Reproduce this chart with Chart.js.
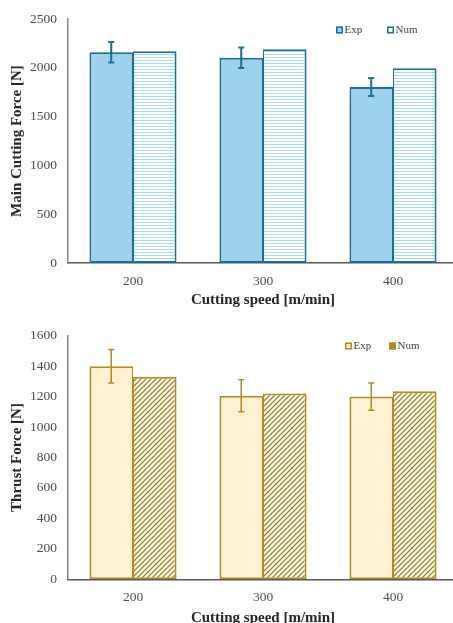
<!DOCTYPE html>
<html><head><meta charset="utf-8">
<script src="https://cdn.jsdelivr.net/npm/chart.js@4.4.1/dist/chart.umd.min.js"></script>
<style>
html,body{margin:0;padding:0;background:#fff;overflow:hidden;width:453px;height:623px;}
canvas{position:absolute;left:0;}
#c1{top:0}
#c2{top:310px}
</style></head><body>
<canvas id="c1" width="462" height="310"></canvas>
<canvas id="c2" width="462" height="320"></canvas>
<script>
// ---- data ----
const categories = ['200', '300', '400'];
const seriesNames = ['Exp', 'Num'];
const xTitle = 'Cutting speed [m/min]';

const mainTitle = 'Main Cutting Force [N]';
const mainExp = [2160, 2105, 1805];
const mainExpErr = [105, 105, 92];
const mainNum = [2170, 2190, 1995];
const mainTicks = [0, 500, 1000, 1500, 2000, 2500];

const thrustTitle = 'Thrust Force [N]';
const thrustExp = [1400, 1205, 1200];
const thrustExpErr = [110, 105, 90];
const thrustNum = [1330, 1220, 1235];
const thrustTicks = [0, 200, 400, 600, 800, 1000, 1200, 1400, 1600];

// ---- patterns ----
function stripePattern(color) {
  const c = document.createElement('canvas'); c.width = 4; c.height = 3;
  const g = c.getContext('2d');
  g.fillStyle = '#ffffff'; g.fillRect(0, 0, 4, 3);
  g.fillStyle = color; g.fillRect(0, 0, 4, 1);
  return g.createPattern(c, 'repeat');
}
function hatchPattern(color) {
  const s = 5;
  const c = document.createElement('canvas'); c.width = s; c.height = s;
  const g = c.getContext('2d');
  g.fillStyle = '#ffffff'; g.fillRect(0, 0, s, s);
  g.strokeStyle = color; g.lineWidth = 1.25;
  g.beginPath();
  g.moveTo(-1, s + 1); g.lineTo(s + 1, -1);
  g.moveTo(-1, 1); g.lineTo(1, -1);
  g.moveTo(s - 1, s + 1); g.lineTo(s + 1, s - 1);
  g.stroke();
  return g.createPattern(c, 'repeat');
}

Chart.defaults.font.family = "'Liberation Serif', 'Times New Roman', serif";

const errorBars = {
  id: 'errorBars',
  afterDatasetsDraw(chart, args, o) {
    const meta = chart.getDatasetMeta(0);
    const ys = chart.scales.y, ctx = chart.ctx;
    ctx.save();
    ctx.strokeStyle = o.color; ctx.lineWidth = o.width;
    meta.data.forEach((bar, i) => {
      const v = chart.data.datasets[0].data[i], e = o.errors[i];
      const x = bar.x, y1 = ys.getPixelForValue(v + e), y2 = ys.getPixelForValue(v - e);
      ctx.beginPath();
      ctx.moveTo(x, y1); ctx.lineTo(x, y2);
      ctx.moveTo(x - o.cap, y1); ctx.lineTo(x + o.cap, y1);
      ctx.moveTo(x - o.cap, y2); ctx.lineTo(x + o.cap, y2);
      ctx.stroke();
    });
    ctx.restore();
  }
};

const boxLegend = {
  id: 'boxLegend',
  afterDraw(chart, args, o) {
    const ctx = chart.ctx;
    ctx.save();
    chart.data.datasets.forEach((ds, i) => {
      const x = o.xs[i], y = o.y;
      ctx.fillStyle = o.fills[i];
      ctx.fillRect(x, y - 3.5, 7, 7);
      ctx.strokeStyle = ds.borderColor; ctx.lineWidth = 1.5;
      ctx.strokeRect(x + 0.75, y - 2.75, 5.5, 5.5);
      ctx.fillStyle = '#404040';
      ctx.font = "11px 'Liberation Serif', serif";
      ctx.textBaseline = 'middle'; ctx.textAlign = 'left';
      ctx.fillText(ds.label, x + 8.5, y + 0.5);
    });
    ctx.restore();
  }
};

function makeChart(id, cfg) {
  const H = document.getElementById(id).height;
  return new Chart(document.getElementById(id), {
    type: 'bar',
    data: {
      labels: categories,
      datasets: [
        { label: seriesNames[0], data: cfg.exp, backgroundColor: cfg.expFill, borderColor: cfg.border,
          borderWidth: { top: 2, left: 2, right: 1, bottom: 2 }, borderSkipped: false,
          categoryPercentage: 0.67, barPercentage: 1.0 },
        { label: seriesNames[1], data: cfg.num, backgroundColor: cfg.numFill, borderColor: cfg.border,
          borderWidth: { top: 2, left: 1, right: 2, bottom: 2 }, borderSkipped: false,
          categoryPercentage: 0.67, barPercentage: 1.0 }
      ]
    },
    options: {
      responsive: false, animation: false,
      layout: { padding: { top: cfg.padTop, right: 4, left: 0, bottom: 0 } },
      plugins: {
        legend: { display: false }, tooltip: { enabled: false },
        errorBars: { errors: cfg.err, color: cfg.errColor, width: cfg.errWidth, cap: 3 },
        boxLegend: { xs: cfg.legendXs, y: cfg.legendY, fills: cfg.legendFills }
      },
      scales: {
        x: {
          offset: true,
          grid: { display: false, drawTicks: false },
          border: { display: true, color: '#595959', width: 1.5 },
          ticks: { color: '#4d4d4d', font: { size: 13.5 }, padding: 10 },
          title: { display: true, text: xTitle, color: '#262626', font: { size: 15, weight: 'bold' },
                   padding: { top: 0, bottom: cfg.xTitlePad } },
          afterFit(s) { s.height = H - cfg.plotBottom; }
        },
        y: {
          min: cfg.ticks[0], max: cfg.ticks[cfg.ticks.length - 1],
          grid: { display: false, drawTicks: false },
          border: { display: true, color: '#858585', width: 1.5 },
          ticks: { color: '#4d4d4d', font: { size: 13.5 }, padding: 11,
                   stepSize: cfg.ticks[1] - cfg.ticks[0],
                   callback: (v) => String(v) },
          title: { display: true, text: cfg.yTitle, color: '#262626', font: { size: 15, weight: 'bold' },
                   padding: { top: 8, bottom: 0 } },
          afterFit(s) { s.width = 68; }
        }
      }
    },
    plugins: [errorBars, boxLegend]
  });
}

const blueStripe = stripePattern('#aad8f0');
const brownHatch = hatchPattern('#a97e14');

makeChart('c1', {
  exp: mainExp, num: mainNum, err: mainExpErr, ticks: mainTicks, yTitle: mainTitle,
  expFill: '#9dd1ec', numFill: blueStripe, border: '#1c6e94',
  errColor: '#1c6e94', errWidth: 2,
  padTop: 16.5, plotBottom: 263, xTitlePad: 1,
  legendXs: [336, 387], legendY: 30, legendFills: ['#9dd1ec', '#ffffff']
});

makeChart('c2', {
  exp: thrustExp, num: thrustNum, err: thrustExpErr, ticks: thrustTicks, yTitle: thrustTitle,
  expFill: '#fff1d2', numFill: brownHatch, border: '#b38b22',
  errColor: '#b38b22', errWidth: 1.5,
  padTop: 25.7, plotBottom: 269.3, xTitlePad: 3,
  legendXs: [345, 389], legendY: 36, legendFills: ['#fff1d2', '#b38b22']
});
</script>
</body></html>
